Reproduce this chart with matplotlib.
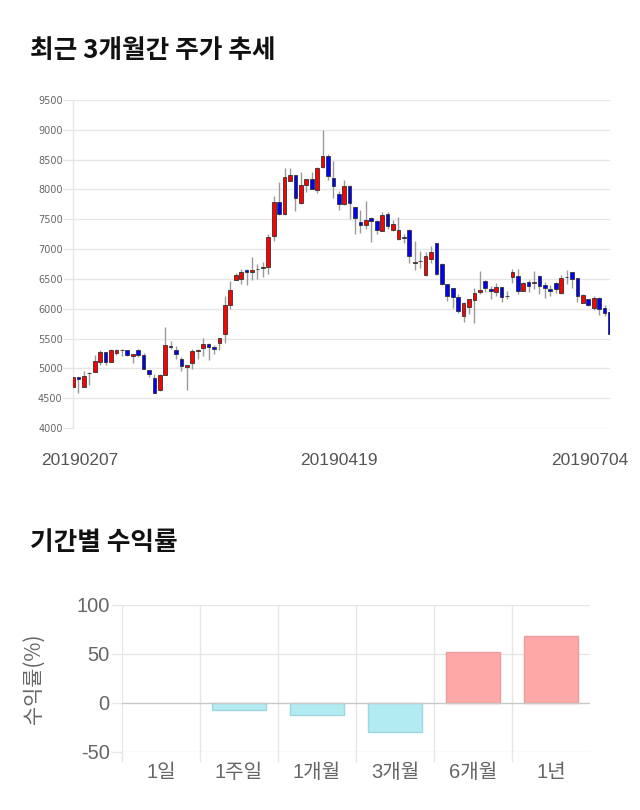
import matplotlib
matplotlib.use("Agg")
import matplotlib.pyplot as plt
import numpy as np

# ---------------- data ----------------
opens = [4680, 4855, 4685, 4930, 4945, 5110, 5275, 5110, 5250, 5300,
         5300, 5210, 5300, 5220, 4970, 4840, 4630, 4895, 5370, 5310,
         5160, 5020, 5095, 5295, 5340, 5410, 5365, 5430, 5573, 6067,
         6486, 6503, 6653, 6610, 6665, 6685, 6693, 7212, 7793, 7587,
         8145, 8235, 7771, 8073, 8173, 7989, 8369, 8559, 8196, 7927,
         7754, 8062, 7703, 7450, 7406, 7524, 7468, 7305, 7591, 7316,
         7165, 7195, 7322, 6775, 6802, 6560, 6829, 7098, 6750, 6408,
         6341, 6195, 5881, 6033, 6145, 6276, 6466, 6332, 6288, 6360,
         6212, 6539, 6556, 6304, 6444, 6433, 6550, 6399, 6338, 6427,
         6260, 6530, 6612, 6511, 6103, 6165, 6019, 6187, 6008, 5952]
highs = [4870, 4860, 4960, 4940, 5225, 5310, 5280, 5330, 5330, 5330,
         5310, 5245, 5330, 5255, 4980, 4900, 4900, 5700, 5460, 5370,
         5190, 5060, 5330, 5330, 5505, 5420, 5390, 5515, 6220, 6460,
         6600, 6660, 6660, 6870, 6750, 6790, 7250, 7890, 8130, 8360,
         8360, 8240, 8300, 8180, 8300, 8380, 9000, 8590, 8480, 7980,
         8160, 8070, 7710, 7660, 7810, 7530, 7480, 7620, 7620, 7490,
         7530, 7260, 7330, 7140, 6970, 6950, 7060, 7100, 6760, 6410,
         6350, 6255, 6110, 6170, 6340, 6625, 6480, 6380, 6430, 6365,
         6290, 6670, 6670, 6440, 6490, 6630, 6560, 6445, 6390, 6440,
         6570, 6650, 6620, 6520, 6240, 6170, 6220, 6200, 6070, 6100]
lows = [4660, 4580, 4680, 4720, 4940, 5050, 5050, 5100, 5220, 5210,
        5210, 5090, 5190, 4990, 4850, 4590, 4620, 4890, 5320, 5150,
        4960, 4640, 4990, 5160, 5210, 5140, 5240, 5300, 5430, 6000,
        6480, 6420, 6400, 6480, 6500, 6540, 6590, 7140, 7580, 7580,
        8140, 7640, 7760, 7960, 8000, 7940, 8360, 8160, 7860, 7650,
        7740, 7510, 7250, 7270, 7340, 7120, 7250, 7300, 7330, 7300,
        7160, 7110, 6770, 6650, 6690, 6550, 6770, 6570, 6400, 6130,
        6010, 5920, 5780, 5910, 5768, 6240, 6280, 6170, 6210, 6110,
        6170, 6430, 6240, 6300, 6280, 6330, 6240, 6180, 6220, 6260,
        6250, 6410, 6355, 6120, 6090, 6050, 5980, 5900, 5880, 5570]
closes = [4860, 4826, 4870, 4915, 5120, 5275, 5110, 5310, 5310, 5305,
          5220, 5240, 5220, 4995, 4900, 4590, 4895, 5390, 5365, 5235,
          5045, 5055, 5285, 5300, 5410, 5350, 5320, 5510, 6067, 6320,
          6558, 6609, 6609, 6650, 6660, 6695, 7207, 7793, 7587, 8207,
          8240, 7849, 8073, 8173, 8005, 8357, 8559, 8218, 8056, 7754,
          8056, 7781, 7518, 7406, 7490, 7479, 7322, 7568, 7395, 7423,
          7322, 7190, 6890, 6780, 6798, 6885, 6957, 6582, 6408, 6212,
          6201, 5960, 6100, 6162, 6257, 6316, 6343, 6299, 6360, 6204,
          6207, 6612, 6304, 6427, 6388, 6455, 6388, 6343, 6304, 6332,
          6511, 6526, 6500, 6209, 6232, 6064, 6187, 5991, 5935, 5572]

date_labels = ["20190207", "20190419", "20190704"]
date_label_pos = [1.2, 49.1, 95.3]
price_ticks = [4000, 4500, 5000, 5500, 6000, 6500, 7000, 7500, 8000, 8500, 9000, 9500]

periods = ["1일", "1주일", "1개월", "3개월", "6개월", "1년"]
returns = [0.0, -7.5, -12.6, -30.3, 51.8, 68.2]
return_ticks = [-50, 0, 50, 100]

# ---------------- figure ----------------
W, H = 640, 810
fig = plt.figure(figsize=(W / 100, H / 100), dpi=100)

KR = ["Noto Sans CJK KR", "DejaVu Sans"]
LAT = ["Liberation Sans", "Noto Sans CJK KR"]
grid_c = "#e6e6e6"
txt_c = "#666666"

fig.text(30 / W, 1 - 51 / H, "최근 3개월간 주가 추세", family=KR, fontsize=18.5,
         fontweight="bold", color="#111111", va="center", ha="left")
fig.text(30 / W, 1 - 542 / H, "기간별 수익률", family=KR, fontsize=18.5,
         fontweight="bold", color="#111111", va="center", ha="left")

# ---------------- candlestick ----------------
ax = fig.add_axes([73 / W, 1 - 428 / H, (610 - 73) / W, (428 - 100) / H])
n = len(opens)
x = np.arange(n)
o = np.array(opens); c = np.array(closes); hi = np.array(highs); lo = np.array(lows)
up = c >= o
ax.vlines(x, lo, hi, color="#9a9a9a", linewidth=1.0, zorder=2)
bottoms = np.minimum(o, c)
heights = np.abs(c - o)
cols = np.where(up, "#ff0000", "#0000ff")
ax.bar(x, heights, bottom=bottoms, width=0.68, color=cols,
       edgecolor="#333333", linewidth=0.6, zorder=3)
ax.set_xlim(0, n - 1)
ax.set_ylim(4000, 9500)
ax.set_yticks(price_ticks)
ax.set_yticklabels([str(t) for t in price_ticks], family="DejaVu Sans",
                   fontsize=7, color=txt_c)
ax.grid(axis="y", color=grid_c, linewidth=1.0, zorder=0)
ax.tick_params(axis="y", length=7, width=1.0, color=grid_c, pad=0.5)
ax.set_xticks(date_label_pos)
ax.set_xticklabels(date_labels, family="Liberation Sans", fontsize=12.5, color="#555555")
ax.tick_params(axis="x", length=0, pad=18)
for s in ["top", "right", "bottom"]:
    ax.spines[s].set_visible(False)
ax.spines["left"].set_color(grid_c)
ax.spines["left"].set_linewidth(1.0)
ax.set_axisbelow(True)

# ---------------- returns bar chart ----------------
bx = fig.add_axes([122 / W, 1 - 751.7 / H, (590 - 122) / W, (751.7 - 605) / H])
k = len(periods)
xi = np.arange(k)
vals = np.array(returns)
fc = ["#ffa8a8" if v > 0 else ("#b2ebf2" if v < 0 else "none") for v in vals]
ec = ["#eb9c9c" if v > 0 else ("#9fd6e0" if v < 0 else "none") for v in vals]
bx.bar(xi, vals, width=0.69, color=fc, edgecolor=ec, linewidth=1.0, zorder=3)
bx.set_xlim(-0.5, k - 0.5)
bx.set_ylim(-50, 100)
bx.set_yticks(return_ticks)
bx.set_yticklabels([str(t) for t in return_ticks], family=LAT, fontsize=14.5, color=txt_c)
bx.tick_params(axis="y", length=7, width=1.0, color=grid_c, pad=2)
bx.set_xticks(xi)
bx.set_xticklabels(periods, family=LAT, fontsize=14.5, color=txt_c)
bx.set_xticks(np.arange(k) - 0.5, minor=True)
bx.tick_params(axis="x", which="major", length=0, pad=8)
bx.tick_params(axis="x", which="minor", length=7.5, width=1.0, color=grid_c)
for yv in return_ticks:
    bx.axhline(yv, color="#c8c8c8" if yv == 0 else grid_c, linewidth=1.0, zorder=1 if yv else 4)
for xv in np.arange(k) - 0.5:
    bx.axvline(xv, color=grid_c, linewidth=1.0, zorder=1)
for s in ["top", "right", "bottom", "left"]:
    bx.spines[s].set_visible(False)
bx.set_ylabel("수익률(%)", family=KR, fontsize=15, color=txt_c, labelpad=8)
bx.yaxis.set_label_coords(-(122 - 45) / (590 - 122), 0.5)

fig.savefig("out.png", dpi=100)
